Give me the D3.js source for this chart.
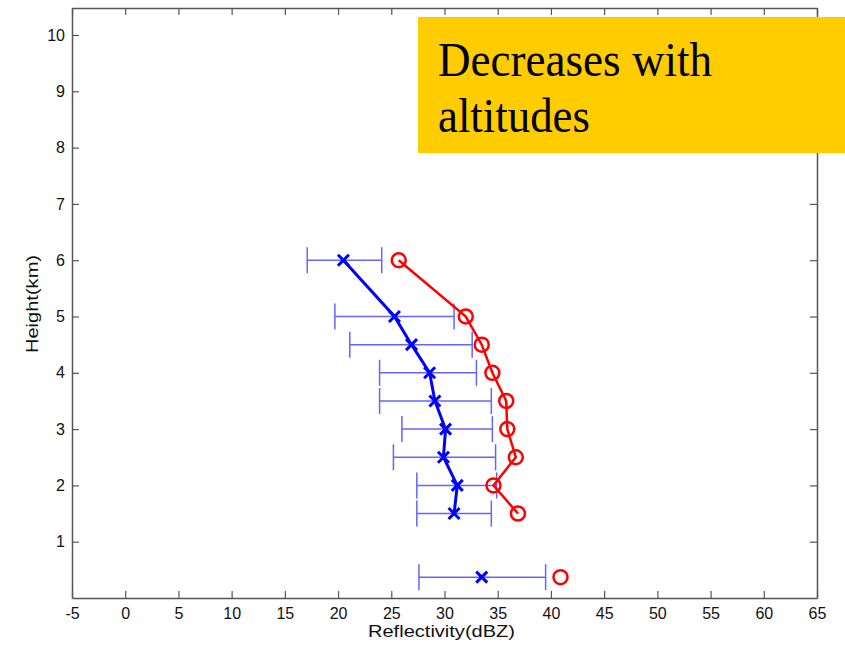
<!DOCTYPE html>
<html>
<head>
<meta charset="utf-8">
<script src="https://cdn.jsdelivr.net/npm/d3@7"></script>
<style>
  body { margin: 0; background: #fff; }
  svg { display: block; }
</style>
</head>
<body>
<div id="plot"></div>
<script>
// heights (km) of the profile levels
const heights = [6, 5, 4.5, 4, 3.5, 3, 2.5, 2, 1.5];
// blue profile: mean and error-bar ends
const blueMean = [20.5, 25.3, 26.9, 28.6, 29.1, 30.1, 29.9, 31.2, 30.9];
const blueLow  = [17.1, 19.7, 21.1, 23.9, 23.9, 26.0, 25.2, 27.4, 27.4];
const blueHigh = [24.1, 30.9, 32.6, 33.0, 34.4, 34.5, 34.8, 34.9, 34.4];
// red profile
const redMean = [25.7, 32.0, 33.5, 34.5, 35.8, 35.9, 36.7, 34.6, 36.9];
// surface point (not joined to the lines)
const surfHeight = 0.37;
const surfBlue = { mean: 33.5, low: 27.6, high: 39.5 };
const surfRed = 40.9;

const xTicks = [-5, 0, 5, 10, 15, 20, 25, 30, 35, 40, 45, 50, 55, 60, 65];
const yTicks = [1, 2, 3, 4, 5, 6, 7, 8, 9, 10];

const W = 845, H = 646;
const box = { left: 72, right: 817, top: 8, bottom: 598 };

const svg = d3.select("#plot").append("svg")
  .attr("width", W).attr("height", H);

const x = d3.scaleLinear().domain([-5, 65]).range([box.left, box.right]);
const y = d3.scaleLinear().domain([0, 10.48]).range([box.bottom, box.top]);

const axisColor = "#555";
const tickFont = "Liberation Sans, Arial, sans-serif";
const plainFmt = d => String(d); // keep hyphen minus like the original

// axes box with inward ticks
function styleAxis(g) {
  g.selectAll("path").attr("stroke", axisColor).attr("stroke-width", 1.5);
  g.selectAll("line").attr("stroke", axisColor).attr("stroke-width", 1.2);
  g.selectAll("text").attr("fill", "#111").style("font-family", tickFont).style("font-size", "16px");
}

svg.append("g")
  .attr("transform", `translate(0,${box.bottom})`)
  .call(d3.axisBottom(x).tickValues(xTicks).tickFormat(plainFmt).tickSizeInner(-7).tickSizeOuter(0).tickPadding(10))
  .call(styleAxis);

svg.append("g")
  .attr("transform", `translate(0,${box.top})`)
  .call(d3.axisTop(x).tickValues(xTicks).tickSizeInner(-7).tickSizeOuter(0).tickFormat(""))
  .call(styleAxis);

svg.append("g")
  .attr("transform", `translate(${box.left},0)`)
  .call(d3.axisLeft(y).tickValues(yTicks).tickFormat(plainFmt).tickSizeInner(-7).tickSizeOuter(0).tickPadding(7))
  .call(styleAxis);

svg.append("g")
  .attr("transform", `translate(${box.right},0)`)
  .call(d3.axisRight(y).tickValues(yTicks).tickSizeInner(-7).tickSizeOuter(0).tickFormat(""))
  .call(styleAxis);

// axis labels
svg.append("text")
  .attr("x", 368)
  .attr("y", 637)
  .attr("textLength", 147)
  .attr("lengthAdjust", "spacingAndGlyphs")
  .style("font-family", tickFont)
  .style("font-size", "17px")
  .attr("fill", "#111")
  .text("Reflectivity(dBZ)");

svg.append("text")
  .attr("transform", "rotate(-90)")
  .attr("x", -353)
  .attr("y", 38)
  .attr("textLength", 98)
  .attr("lengthAdjust", "spacingAndGlyphs")
  .style("font-family", tickFont)
  .style("font-size", "17px")
  .attr("fill", "#111")
  .text("Height(km)");

// error bars
const bars = heights.map((h, i) => ({ h: h, low: blueLow[i], high: blueHigh[i] }));
bars.push({ h: surfHeight, low: surfBlue.low, high: surfBlue.high });

const eb = svg.append("g")
  .attr("stroke", "#6464ff")
  .attr("stroke-width", 1.5)
  .attr("fill", "none");

bars.forEach(d => {
  eb.append("line").attr("x1", x(d.low)).attr("x2", x(d.high)).attr("y1", y(d.h)).attr("y2", y(d.h));
  eb.append("line").attr("x1", x(d.low)).attr("x2", x(d.low)).attr("y1", y(d.h) - 13).attr("y2", y(d.h) + 13);
  eb.append("line").attr("x1", x(d.high)).attr("x2", x(d.high)).attr("y1", y(d.h) - 13).attr("y2", y(d.h) + 13);
});

// lines
const line = d3.line().x(d => x(d[0])).y(d => y(d[1]));

svg.append("path")
  .datum(heights.map((h, i) => [redMean[i], h]))
  .attr("d", line)
  .attr("fill", "none")
  .attr("stroke", "#ff0000")
  .attr("stroke-width", 2.5);

svg.append("path")
  .datum(heights.map((h, i) => [blueMean[i], h]))
  .attr("d", line)
  .attr("fill", "none")
  .attr("stroke", "#0000ff")
  .attr("stroke-width", 3);

// red circle markers
const redPts = heights.map((h, i) => [redMean[i], h]);
redPts.push([surfRed, surfHeight]);
svg.append("g").selectAll("circle")
  .data(redPts)
  .enter().append("circle")
  .attr("cx", d => x(d[0]))
  .attr("cy", d => y(d[1]))
  .attr("r", 7)
  .attr("fill", "none")
  .attr("stroke", "#ff0000")
  .attr("stroke-width", 2.5);

// blue x markers
const bluePts = heights.map((h, i) => [blueMean[i], h]);
bluePts.push([surfBlue.mean, surfHeight]);
const s = 5.5;
svg.append("g").selectAll("path")
  .data(bluePts)
  .enter().append("path")
  .attr("d", d => {
    const cx = x(d[0]), cy = y(d[1]);
    return `M${cx - s},${cy - s}L${cx + s},${cy + s}M${cx - s},${cy + s}L${cx + s},${cy - s}`;
  })
  .attr("stroke", "#0000ff")
  .attr("stroke-width", 3)
  .attr("fill", "none");

// annotation box
svg.append("rect")
  .attr("x", 418).attr("y", 17)
  .attr("width", 427).attr("height", 136)
  .attr("fill", "#ffcc00");

const note = svg.append("g")
  .style("font-family", "Liberation Serif, Times New Roman, serif")
  .style("font-size", "49px")
  .attr("fill", "#000");

note.append("text").attr("x", 438).attr("y", 76)
  .attr("textLength", 274).attr("lengthAdjust", "spacingAndGlyphs")
  .text("Decreases with");
note.append("text").attr("x", 438).attr("y", 132)
  .attr("textLength", 152).attr("lengthAdjust", "spacingAndGlyphs")
  .text("altitudes");
</script>
</body>
</html>
